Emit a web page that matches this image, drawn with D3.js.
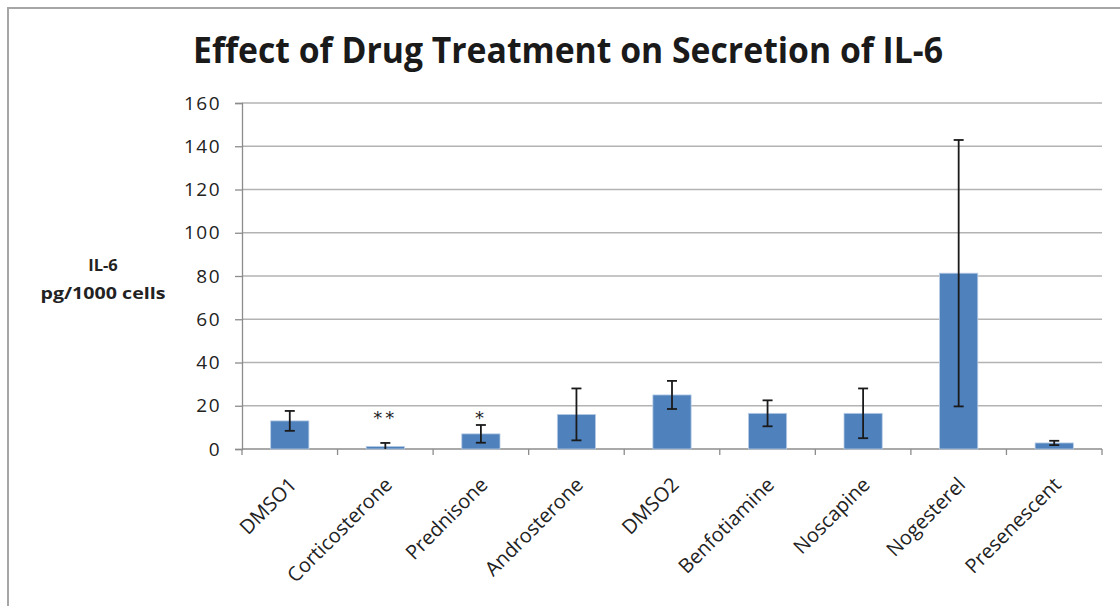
<!DOCTYPE html>
<html>
<head>
<meta charset="utf-8">
<script src="https://cdn.jsdelivr.net/npm/d3@7"></script>
<style>
  html, body { margin: 0; padding: 0; background: #fff; }
  #canvas { width: 1120px; height: 606px; }
</style>
</head>
<body>
<div id="canvas"></div>
<script>
// data
let categories = ["DMSO1", "Corticosterone", "Prednisone", "Androsterone", "DMSO2",
  "Benfotiamine", "Noscapine", "Nogesterel", "Presenescent"];
let means = [13, 1.2, 7, 16, 25, 16.5, 16.5, 81.3, 2.8];
let errors = [4.6, 1.6, 4.1, 12, 6.5, 6, 11.5, 61.6, 1.0];
let stars = ["", "**", "*", "", "", "", "", "", ""];
let yTicks = [0, 20, 40, 60, 80, 100, 120, 140, 160];

let W = 1120, H = 606;
let margin = { left: 242, right: 18, top: 103, bottom: 157 };
let font = "'Open Sans', Lato, sans-serif";

let svg = d3
  .select("#canvas")
  .append("svg")
  .attr("width", W)
  .attr("height", H)
  .style("background", "#fff");

// outer chart frame (only top and left edges are visible)
svg.append("path")
  .attr("d", `M8,${H} L8,8 L${W},8`)
  .attr("fill", "none")
  .attr("stroke", "#a6a6a6")
  .attr("stroke-width", 2);

let x = d3.scaleBand()
  .domain(categories)
  .range([margin.left, W - margin.right])
  .paddingInner(0.6)
  .paddingOuter(0.3);

let y = d3.scaleLinear()
  .domain([0, 160])
  .range([H - margin.bottom, margin.top]);

// gridlines
svg.append("g")
  .selectAll("line")
  .data(yTicks.slice(1))
  .join("line")
  .attr("x1", margin.left)
  .attr("x2", W - margin.right)
  .attr("y1", (d) => y(d))
  .attr("y2", (d) => y(d))
  .attr("stroke", "#b3b3b3")
  .attr("stroke-width", 1.3);

// y axis
let yAxis = svg.append("g")
  .attr("transform", `translate(${margin.left},0)`)
  .call(d3.axisLeft(y).tickValues(yTicks).tickSize(7).tickPadding(14));
yAxis.select(".domain").attr("stroke", "#8c8c8c").attr("stroke-width", 1.3);
yAxis.selectAll(".tick line").attr("stroke", "#8c8c8c").attr("stroke-width", 1.3);
yAxis.selectAll(".tick text")
  .attr("fill", "#222")
  .style("font-family", font)
  .style("font-size", "19px")
  .style("letter-spacing", "1.5px");

// x axis line with ticks at category boundaries
let step = x.step();
let x0 = margin.left;
let bounds = d3.range(categories.length + 1).map((i) => x0 + i * step);
svg.append("line")
  .attr("x1", x0)
  .attr("x2", W - margin.right)
  .attr("y1", y(0))
  .attr("y2", y(0))
  .attr("stroke", "#8c8c8c")
  .attr("stroke-width", 1.3);
svg.append("g")
  .selectAll("line")
  .data(bounds)
  .join("line")
  .attr("x1", (d) => d)
  .attr("x2", (d) => d)
  .attr("y1", y(0))
  .attr("y2", y(0) + 6)
  .attr("stroke", "#8c8c8c")
  .attr("stroke-width", 1.3);

// bars
svg.append("g")
  .selectAll("rect")
  .data(categories)
  .join("rect")
  .attr("x", (d) => x(d))
  .attr("width", x.bandwidth())
  .attr("y", (d, i) => y(means[i]))
  .attr("height", (d, i) => y(0) - y(means[i]))
  .attr("fill", "#4f81bd")
  .attr("stroke", "#b9cde5")
  .attr("stroke-width", 0.8);

// error bars
let eb = svg.append("g")
  .attr("stroke", "#1a1a1a")
  .attr("stroke-width", 1.8);
categories.forEach((c, i) => {
  let cx = x(c) + x.bandwidth() / 2;
  let lo = Math.max(0, means[i] - errors[i]);
  let hi = means[i] + errors[i];
  eb.append("line").attr("x1", cx).attr("x2", cx).attr("y1", y(lo)).attr("y2", y(hi));
  eb.append("line").attr("x1", cx - 5).attr("x2", cx + 5).attr("y1", y(hi)).attr("y2", y(hi));
  if (means[i] - errors[i] > 0) {
    eb.append("line").attr("x1", cx - 5).attr("x2", cx + 5).attr("y1", y(lo)).attr("y2", y(lo));
  }
});

// significance stars
svg.append("g")
  .selectAll("text")
  .data(categories)
  .join("text")
  .attr("x", (d) => x(d) + x.bandwidth() / 2)
  .attr("y", 424)
  .attr("text-anchor", "middle")
  .attr("fill", "#222")
  .style("font-family", "'DejaVu Sans', sans-serif")
  .style("font-size", "18px")
  .style("letter-spacing", "3px")
  .text((d, i) => stars[i]);

// category labels, rotated
svg.append("g")
  .selectAll("text")
  .data(categories)
  .join("text")
  .attr("text-anchor", "end")
  .attr("transform", (d) => `translate(${x(d) + x.bandwidth() / 2 + 8},${y(0) + 37}) rotate(-45)`)
  .attr("fill", "#222")
  .style("font-family", font)
  .style("font-size", "20px")
  .text((d) => d);

// y axis title
let yt = svg.append("text")
  .attr("text-anchor", "middle")
  .attr("fill", "#222")
  .style("font-family", font)
  .style("font-size", "16.5px")
  .style("font-weight", "bold");
yt.append("tspan").attr("x", 103).attr("y", 271).text("IL-6");
yt.append("tspan").attr("x", 103).attr("y", 299).attr("textLength", 125)
  .attr("lengthAdjust", "spacingAndGlyphs").text("pg/1000 cells");

// title
svg.append("text")
  .attr("x", 193)
  .attr("y", 63)
  .attr("textLength", 750)
  .attr("lengthAdjust", "spacingAndGlyphs")
  .attr("fill", "#1a1a1a")
  .style("font-family", font)
  .style("font-size", "36px")
  .style("font-weight", "bold")
  .text("Effect of Drug Treatment on Secretion of IL-6");
</script>
</body>
</html>
